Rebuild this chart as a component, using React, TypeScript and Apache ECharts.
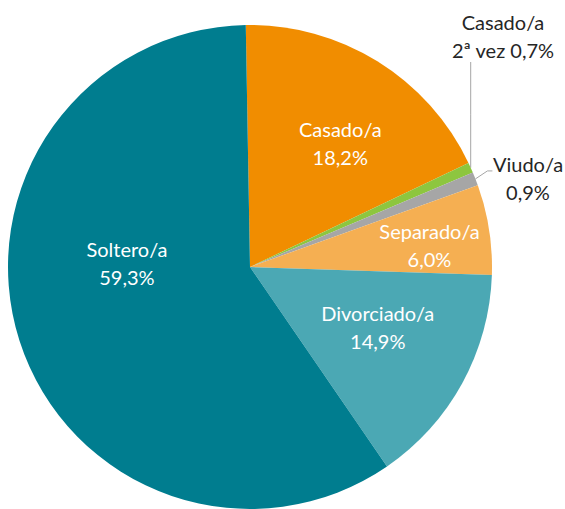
import React, { useEffect, useRef } from "react";
import * as echarts from "echarts";

const categories = ["Casado/a", "Casado/a 2ª vez", "Viudo/a", "Separado/a", "Divorciado/a", "Soltero/a"];
const labelTexts = ["Casado/a", "Casado/a\n2ª vez", "Viudo/a\n", "Separado/a", "Divorciado/a", "Soltero/a"];
const values = [18.2, 0.7, 0.9, 6.0, 14.9, 59.3];
const colors = ["#F18D00", "#8DC63F", "#A6A6A6", "#F5AF52", "#4BA8B4", "#007D8F"];
const outside = [false, true, true, false, false, false];

const fmt = (v: number) => v.toFixed(1).replace(".", ",") + "%";

export default function App() {
  const ref = useRef<HTMLDivElement>(null);
  useEffect(() => {
    const chart = echarts.init(ref.current!, undefined, { renderer: "svg" });
    const data = categories.map((c, i) => {
      const t = labelTexts[i];
      const text = t.endsWith("\n")
        ? t + fmt(values[i])
        : t.includes("\n")
        ? t + " " + fmt(values[i])
        : t + "\n" + fmt(values[i]);
      return {
        name: c,
        value: values[i],
        itemStyle: { color: colors[i] },
        label: outside[i]
          ? { position: "outside", color: "#262626", overflow: "none", formatter: text }
          : { position: "inside", color: "#fff", formatter: text },
        labelLine: { show: outside[i], lineStyle: { color: "#A6A6A6", width: 1 } },
      };
    });
    const shifts: Record<number, [number, number]> = {
      0: [25, -19],
      3: [57, -3],
      4: [19, 0],
      5: [-5, -42],
    };
    chart.setOption({
      animation: false,
      series: [
        {
          type: "pie",
          center: [250, 267],
          radius: [0, 242],
          startAngle: 91,
          clockwise: true,
          data,
          itemStyle: { borderWidth: 0 },
          label: {
            fontFamily: "Lato",
            fontSize: 20,
            lineHeight: 28,
            align: "center",
          },
          labelLine: { length: 10, length2: 10 },
          labelLayout: (p: any) => {
            const p0 = p.labelLinePoints ? p.labelLinePoints[0] : [0, 0];
            if (p.dataIndex === 1) {
              const cy = 36;
              const bottom = cy + p.labelRect.height / 2 - 2;
              return {
                x: 503,
                y: cy,
                align: "center",
                verticalAlign: "middle",
                labelLinePoints: [
                  [p0[0], p0[1]],
                  [p0[0], (p0[1] + bottom) / 2],
                  [p0[0], bottom],
                ],
              };
            }
            if (p.dataIndex === 2) {
              return {
                x: 528,
                y: 178,
                align: "center",
                verticalAlign: "middle",
                labelLinePoints: [
                  [p0[0], p0[1]],
                  [p0[0] + 12, p0[1] - 8],
                  [p0[0] + 17, p0[1] - 8],
                ],
              };
            }
            const s = shifts[p.dataIndex] || [0, 0];
            return { dx: s[0], dy: s[1] };
          },
        },
      ],
    });
    return () => chart.dispose();
  }, []);
  return (
    <div
      ref={ref}
      style={{ position: "absolute", left: 0, top: 0, width: 565, height: 509 }}
    />
  );
}
